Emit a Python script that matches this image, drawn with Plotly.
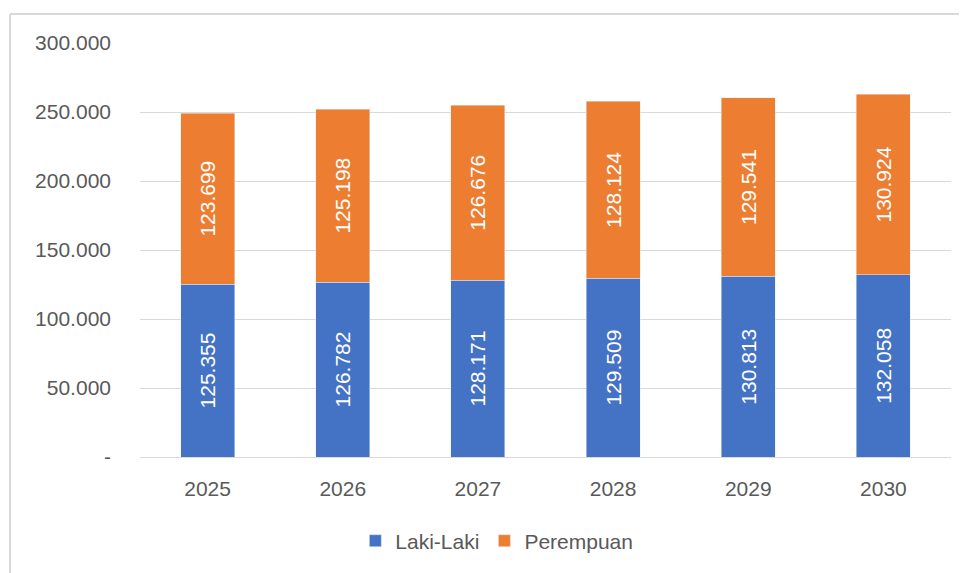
import plotly.graph_objects as go

years = ["2025", "2026", "2027", "2028", "2029", "2030"]
laki = [125355, 126782, 128171, 129509, 130813, 132058]
perempuan = [123699, 125198, 126676, 128124, 129541, 130924]
y_tick_vals = [0, 50000, 100000, 150000, 200000, 250000, 300000]
y_tick_text = ["-", "50.000", "100.000", "150.000", "200.000", "250.000", "300.000"]

FONT = "Liberation Sans"
GRAY = "#595959"
BORDER = "#D9D9D9"

fig = go.Figure()
fig.add_trace(go.Bar(
    name="Laki-Laki", x=years, y=laki, marker_color="#4472C4",
    texttemplate="%{y:,.0f}", textposition="inside", textangle=-90,
    insidetextanchor="middle", textfont=dict(color="white", size=21, family=FONT),
))
fig.add_trace(go.Bar(
    name="Perempuan", x=years, y=perempuan, marker_color="#ED7D31",
    texttemplate="%{y:,.0f}", textposition="inside", textangle=-90,
    insidetextanchor="middle", textfont=dict(color="white", size=21, family=FONT),
))

fig.update_layout(
    barmode="stack", bargap=0.6,
    width=959, height=565,
    margin=dict(l=132, r=16, t=35, b=116),
    paper_bgcolor="white", plot_bgcolor="white",
    separators=",.",
    uniformtext=dict(mode=False),
    font=dict(family=FONT, size=21, color=GRAY),
    legend=dict(orientation="h", x=0.44, xanchor="center", y=-0.203, yanchor="middle",
                font=dict(size=21, color=GRAY), traceorder="normal"),
    shapes=[
        dict(type="line", xref="paper", yref="paper", x0=-0.1603, x1=1.1, y0=1.07, y1=1.07,
             line=dict(color=BORDER, width=2), layer="below"),
        dict(type="line", xref="paper", yref="paper", x0=-0.1603, x1=-0.1603, y0=-0.4, y1=1.07,
             line=dict(color=BORDER, width=2), layer="below"),
    ],
)
fig.update_yaxes(range=[0, 300000], tickvals=y_tick_vals, ticktext=y_tick_text,
                 showgrid=True, gridcolor=BORDER, gridwidth=1, zeroline=False,
                 ticks="", ticklabelstandoff=28, tickfont=dict(size=21, color=GRAY))
fig.update_xaxes(showline=True, linecolor=BORDER, linewidth=1, ticks="",
                 ticklabelstandoff=13, tickfont=dict(size=21, color=GRAY))

fig.write_html("out.html")
